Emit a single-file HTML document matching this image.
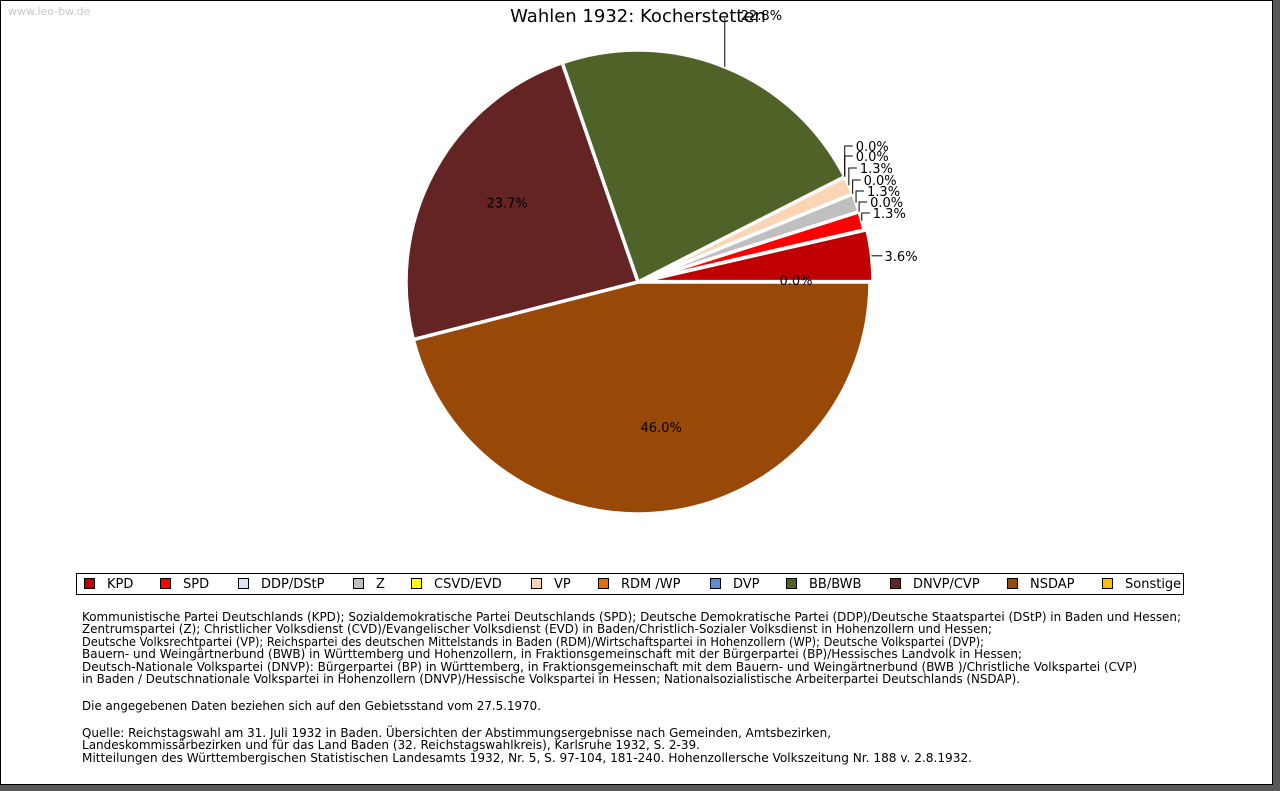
<!DOCTYPE html>
<html><head><meta charset="utf-8"><style>
body{margin:0;background:#fff;}
svg{display:block;font-family:"DejaVu Sans","Liberation Sans",sans-serif;}
</style></head><body>
<svg id="chart" width="1280" height="791" viewBox="0 0 1280 791">
<rect x="0" y="0" width="1280" height="791" fill="#585858"/>
<rect x="0.5" y="0.5" width="1272" height="784" fill="#fff" stroke="#000"/>
<text x="8" y="15" font-size="11" fill="#c8c8c8">www.leo-bw.de</text>
<text x="638" y="22" font-size="18" text-anchor="middle" fill="#000">Wahlen 1932: Kocherstetten</text>
<g id="pie"></g>
<g id="labels"></g>
<rect x="76.5" y="573.5" width="1107" height="21" fill="#fff" stroke="#000"/>
<g id="legend"></g>
<g font-size="12" fill="#000">
<text x="82" y="621" textLength="1099" lengthAdjust="spacingAndGlyphs">Kommunistische Partei Deutschlands (KPD); Sozialdemokratische Partei Deutschlands (SPD); Deutsche Demokratische Partei (DDP)/Deutsche Staatspartei (DStP) in Baden und Hessen;</text>
<text x="82" y="633" textLength="910" lengthAdjust="spacingAndGlyphs">Zentrumspartei (Z); Christlicher Volksdienst (CVD)/Evangelischer Volksdienst (EVD) in Baden/Christlich-Sozialer Volksdienst in Hohenzollern und Hessen;</text>
<text x="82" y="646" textLength="902" lengthAdjust="spacingAndGlyphs">Deutsche Volksrechtpartei (VP); Reichspartei des deutschen Mittelstands in Baden (RDM)/Wirtschaftspartei in Hohenzollern (WP); Deutsche Volkspartei (DVP);</text>
<text x="82" y="658" textLength="940" lengthAdjust="spacingAndGlyphs">Bauern- und Weingärtnerbund (BWB) in Württemberg und Hohenzollern, in Fraktionsgemeinschaft mit der Bürgerpartei (BP)/Hessisches Landvolk in Hessen;</text>
<text x="82" y="671" textLength="1055" lengthAdjust="spacingAndGlyphs">Deutsch-Nationale Volkspartei (DNVP): Bürgerpartei (BP) in Württemberg, in Fraktionsgemeinschaft mit dem Bauern- und Weingärtnerbund (BWB )/Christliche Volkspartei (CVP)</text>
<text x="82" y="683" textLength="938" lengthAdjust="spacingAndGlyphs">in Baden / Deutschnationale Volkspartei in Hohenzollern (DNVP)/Hessische Volkspartei in Hessen; Nationalsozialistische Arbeiterpartei Deutschlands (NSDAP).</text>
<text x="82" y="710" textLength="459" lengthAdjust="spacingAndGlyphs">Die angegebenen Daten beziehen sich auf den Gebietsstand vom 27.5.1970.</text>
<text x="82" y="737" textLength="749" lengthAdjust="spacingAndGlyphs">Quelle: Reichstagswahl am 31. Juli 1932 in Baden. Übersichten der Abstimmungsergebnisse nach Gemeinden, Amtsbezirken,</text>
<text x="82" y="749" textLength="618" lengthAdjust="spacingAndGlyphs">Landeskommissärbezirken und für das Land Baden (32. Reichstagswahlkreis), Karlsruhe 1932, S. 2-39.</text>
<text x="82" y="762" textLength="890" lengthAdjust="spacingAndGlyphs">Mitteilungen des Württembergischen Statistischen Landesamts 1932, Nr. 5, S. 97-104, 181-240. Hohenzollersche Volkszeitung Nr. 188 v. 2.8.1932.</text>
</g>
</svg>
<script>
const parties = ["KPD","SPD","DDP/DStP","Z","CSVD/EVD","VP","RDM /WP","DVP","BB/BWB","DNVP/CVP","NSDAP","Sonstige"];
const shares = [3.6,1.3,0.0,1.3,0.0,1.3,0.0,0.0,22.8,23.7,46.0,0.0];
const colors = ["#c00000","#ff0000","#dce6f2","#bfbfbf","#ffff00","#fcd5b5","#e46c0a","#558ed5","#4f6228","#632423","#984807","#ffc000"];
const legendX = [84,160,238,353,411,531,598,710,786,890,1007,1102];
const NS="http://www.w3.org/2000/svg";
const cx=638, cy=282, R=232;
const total = shares.reduce((a,b)=>a+b,0);
const pie=document.getElementById('pie'), lab=document.getElementById('labels'), leg=document.getElementById('legend');
function pt(a,r){return [cx+r*Math.cos(a), cy-r*Math.sin(a)];}
let start=0;
const smallY=[213,202,191,180,168,156,146];
let smallIdx=0;
shares.forEach((v,i)=>{
  const sweep=v/total*2*Math.PI;
  const end=start+sweep, mid=start+sweep/2;
  if(v>0){
    const off=(i===0)?3:0;
    const ox=off*Math.cos(mid), oy=-off*Math.sin(mid);
    const p1=pt(start,R), p2=pt(end,R);
    const path=document.createElementNS(NS,'path');
    path.setAttribute('d',`M${cx+ox},${cy+oy} L${p1[0]+ox},${p1[1]+oy} A${R},${R} 0 ${sweep>Math.PI?1:0} 0 ${p2[0]+ox},${p2[1]+oy} Z`);
    path.setAttribute('fill',colors[i]);
    path.setAttribute('stroke','#fff');
    path.setAttribute('stroke-width','3.5');
    
    
    pie.appendChild(path);
  }
  const txt=v.toFixed(1)+'%';
  const t=document.createElementNS(NS,'text');
  t.setAttribute('font-size','13');
  t.textContent=txt;
  
  
  if(v>=20){
    if(i===8){
      const p=pt(mid,R);
      const ln=document.createElementNS(NS,'path');
      ln.setAttribute('d',`M${p[0]},${p[1]} L${p[0]},18`);
      ln.setAttribute('stroke','#000');ln.setAttribute('fill','none');
      
      
      lab.appendChild(ln);
      t.setAttribute('x',p[0]+16);t.setAttribute('y',20);
    } else {
      const p=pt(mid,R*0.66);
      t.setAttribute('x',p[0]+4);t.setAttribute('y',p[1]-2);t.setAttribute('text-anchor','middle');
    }
    lab.appendChild(t);
  } else if(i===11){
    t.setAttribute('x',796);t.setAttribute('y',285);t.setAttribute('text-anchor','middle');
    lab.appendChild(t);
  } else {
    const p=pt(mid,R);
    let ly, lx;
    if(i===0){ly=p[1]; lx=p[0]+16;}
    else {ly=smallY[smallIdx]; lx=p[0]+10; smallIdx++;}
    const ln=document.createElementNS(NS,'path');
    if(i===0) ln.setAttribute('d',`M${p[0]+3},${ly} L${lx-2},${ly}`);
    else ln.setAttribute('d',`M${p[0]},${p[1]} L${p[0]},${ly} L${p[0]+8},${ly}`);
    ln.setAttribute('stroke','#000');ln.setAttribute('fill','none');
    
    
    lab.appendChild(ln);
    t.setAttribute('x',i===0?lx:p[0]+11);t.setAttribute('y',ly+5);
    lab.appendChild(t);
  }
  start=end;
});
parties.forEach((n,i)=>{
  const g=document.createElementNS(NS,'g');
  
  
  const r=document.createElementNS(NS,'rect');
  r.setAttribute('x',legendX[i]+0.5);r.setAttribute('y',578.5);r.setAttribute('width',10);r.setAttribute('height',10);
  r.setAttribute('fill',colors[i]);r.setAttribute('stroke','#000');
  g.appendChild(r);
  const t=document.createElementNS(NS,'text');
  t.setAttribute('x',legendX[i]+23);t.setAttribute('y',588);t.setAttribute('font-size','13');
  t.textContent=n;
  g.appendChild(t);
  leg.appendChild(g);
});
</script>
</body></html>
